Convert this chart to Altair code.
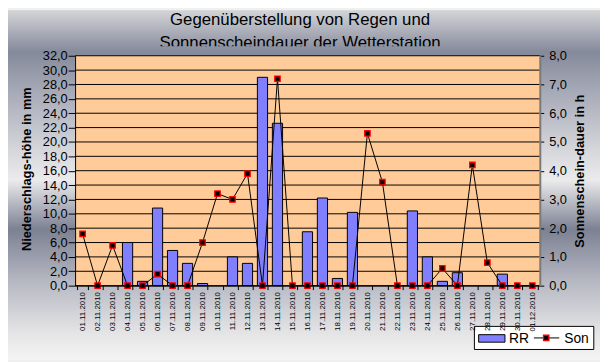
import altair as alt
import pandas as pd

# ---------------- data ----------------
dates = ["01.11.2010", "02.11.2010", "03.11.2010", "04.11.2010", "05.11.2010",
         "06.11.2010", "07.11.2010", "08.11.2010", "09.11.2010", "10.11.2010",
         "11.11.2010", "12.11.2010", "13.11.2010", "14.11.2010", "15.11.2010",
         "16.11.2010", "17.11.2010", "18.11.2010", "19.11.2010", "20.11.2010",
         "21.11.2010", "22.11.2010", "23.11.2010", "24.11.2010", "25.11.2010",
         "26.11.2010", "27.11.2010", "28.11.2010", "29.11.2010", "30.11.2010",
         "01.12.2010"]
rr_mm = [0, 0, 0, 6.0, 0.6, 10.8, 4.9, 3.1, 0.3, 0,
         4.0, 3.1, 29.0, 22.6, 0, 7.5, 12.2, 1.0, 10.2, 0,
         0, 0, 10.4, 4.0, 0.6, 1.8, 0, 0, 1.6, 0,
         0]
sun_h = [1.8, 0, 1.4, 0, 0, 0.4, 0, 0, 1.5, 3.2,
         3.0, 3.9, 0, 7.2, 0, 0, 0, 0, 0, 5.3,
         3.6, 0, 0, 0, 0.6, 0, 4.2, 0.8, 0, 0,
         0]
mm_ticks = [0, 2, 4, 6, 8, 10, 12, 14, 16, 18, 20, 22, 24, 26, 28, 30, 32]
h_ticks = [0, 1, 2, 3, 4, 5, 6, 7, 8]
title_lines = ["Gegenüberstellung von Regen und", "Sonnenscheindauer der Wetterstation"]
y_title_left = "Niederschlags-höhe in mm"
y_title_right = "Sonnenschein-dauer in h"
legend_labels = ["RR", "Son"]

# ---------------- layout / style ----------------
W, H = 471, 233
PL, PT, PR, PB = 68, 46, 61, 75
FONT = "Liberation Sans"
BAR_FILL = "#8080ff"
PEACH = "#ffcc99"

# metallic background (screen y -> colour)
BG_Y = [0, 10, 50, 100, 150, 180, 230, 283, 333, 362]
BG_C = ["#d9d9db", "#d0d1d5", "#858a9b", "#aeb1bd", "#d6d7db", "#ebebec",
        "#7c8193", "#b6b8c2", "#e3e3e5", "#f4f4f4"]


def hex2rgb(h):
    h = h.lstrip("#")
    return [int(h[i:i + 2], 16) for i in (0, 2, 4)]


def rgb2hex(c):
    return "#%02x%02x%02x" % tuple(int(round(v)) for v in c)


def color_at(y):
    for i in range(len(BG_Y) - 1):
        if BG_Y[i] <= y <= BG_Y[i + 1]:
            t = (y - BG_Y[i]) / (BG_Y[i + 1] - BG_Y[i])
            a, b = hex2rgb(BG_C[i]), hex2rgb(BG_C[i + 1])
            return rgb2hex([a[k] + (b[k] - a[k]) * t for k in range(3)])
    return BG_C[-1] if y > BG_Y[-1] else BG_C[0]


def gradient(y0, y1):
    ys = [y0] + [y for y in BG_Y if y0 < y < y1] + [y1]
    return {"gradient": "linear", "x1": 0, "y1": 0, "x2": 0, "y2": 1,
            "stops": [{"offset": (y - y0) / (y1 - y0), "color": color_at(y)} for y in ys]}


base = pd.DataFrame({"date": dates, "rr": rr_mm, "son": sun_h})
one = pd.DataFrame({"k": [0]})
grid_df = pd.DataFrame({"rr": mm_ticks})

x_axis = alt.Axis(title=None, labelAngle=270, labelFont=FONT,
                  labelFontSize=8, labelColor="black", labelPadding=2,
                  labelOverlap=False, tickBand="extent", tickSize=4,
                  tickColor="black", domainColor="black", grid=False, zindex=1)
x_enc = alt.X("date:N", sort=dates,
              scale=alt.Scale(domain=dates, paddingInner=0.32, paddingOuter=0.16),
              axis=x_axis)

yl_scale = alt.Scale(domain=[0, 32], nice=False, zero=True)
yl_axis = alt.Axis(title=y_title_left, values=mm_ticks,
                   labelExpr="replace(format(datum.value, '.1f'), '.', ',')",
                   labelFont=FONT, labelFontSize=13, labelColor="black",
                   labelPadding=1, labelOverlap=False, labelFlush=False,
                   tickSize=7, tickColor="black", domainColor="black",
                   grid=False, zindex=1,
                   titleFont=FONT, titleFontSize=13, titleFontWeight="bold",
                   titleColor="black", titleAngle=270, titleX=-44.8, titleY=H / 2 - 2,
                   titleAlign="center", titleBaseline="alphabetic")

yr_scale = alt.Scale(domain=[0, 8], nice=False, zero=True)
yr_axis = alt.Axis(title=y_title_right, orient="right", values=h_ticks,
                   labelExpr="replace(format(datum.value, '.1f'), '.', ',')",
                   labelFont=FONT, labelFontSize=13, labelColor="black",
                   labelPadding=5, labelOverlap=False, labelFlush=False,
                   tickSize=4, tickColor="black", domainColor="#7a7a7a",
                   domainWidth=2, grid=False, zindex=1,
                   titleFont=FONT, titleFontSize=13, titleFontWeight="bold",
                   titleColor="black", titleAngle=270, titleX=44, titleY=H / 2,
                   titleAlign="center", titleBaseline="alphabetic")

# background + title
bg = alt.Chart(one).mark_rect(fill=gradient(8, 362), strokeWidth=0).encode(
    x=alt.value(-PL), x2=alt.value(W + PR), y=alt.value(-PT), y2=alt.value(H + PB))
t1 = alt.Chart(one).mark_text(text=title_lines[0], font=FONT, fontSize=17, color="black",
                              align="center", baseline="alphabetic").encode(
    x=alt.value(228), y=alt.value(-31))
t2 = alt.Chart(one).mark_text(text=title_lines[1], font=FONT, fontSize=17, color="black",
                              align="center", baseline="alphabetic").encode(
    x=alt.value(228), y=alt.value(-8))
strip = alt.Chart(one).mark_rect(fill=gradient(44.5, 54), strokeWidth=0).encode(
    x=alt.value(-PL), x2=alt.value(W + PR), y=alt.value(-9.5), y2=alt.value(0))
peach = alt.Chart(one).mark_rect(fill=PEACH, strokeWidth=0).encode(
    x=alt.value(0), x2=alt.value(W), y=alt.value(0), y2=alt.value(H))

grid = alt.Chart(grid_df).mark_rule(color="black", strokeWidth=1).encode(
    y=alt.Y("rr:Q", scale=yl_scale, axis=yl_axis),
    x=alt.value(0), x2=alt.value(W))

bars = alt.Chart(base).transform_filter("datum.rr > 0").mark_bar(
    fill=BAR_FILL, stroke="black", strokeWidth=1).encode(
    x=x_enc, y=alt.Y("rr:Q", scale=yl_scale, axis=yl_axis))

left = alt.layer(bg, t1, t2, strip, peach, grid, bars)

line = alt.Chart(base).mark_line(color="black", strokeWidth=1).encode(
    x=x_enc, y=alt.Y("son:Q", scale=yr_scale, axis=yr_axis))
points = alt.Chart(base).mark_point(shape="square", filled=True, fill="black",
                                    stroke="red", strokeWidth=1.3, size=30,
                                    opacity=1).encode(
    x=x_enc, y=alt.Y("son:Q", scale=yr_scale, axis=yr_axis))

# legend box
lg_box = alt.Chart(one).mark_rect(fill="white", stroke="black", strokeWidth=1).encode(
    x=alt.value(404.7), x2=alt.value(525.7), y=alt.value(274.3), y2=alt.value(297.7))
lg_sw = alt.Chart(one).mark_rect(fill=BAR_FILL, stroke="black", strokeWidth=1).encode(
    x=alt.value(409), x2=alt.value(435.7), y=alt.value(282.7), y2=alt.value(290.3))
lg_t1 = alt.Chart(one).mark_text(text=legend_labels[0], font=FONT, fontSize=14,
                                 color="black", align="left", baseline="alphabetic").encode(
    x=alt.value(439.7), y=alt.value(291))
lg_ln = alt.Chart(one).mark_rule(color="black", strokeWidth=1).encode(
    x=alt.value(465), x2=alt.value(490.7), y=alt.value(286))
lg_pt = alt.Chart(one).mark_point(shape="square", filled=True, fill="black",
                                  stroke="red", strokeWidth=1.3, size=30, opacity=1).encode(
    x=alt.value(477.5), y=alt.value(286))
lg_t2 = alt.Chart(one).mark_text(text=legend_labels[1], font=FONT, fontSize=14,
                                 color="black", align="left", baseline="alphabetic").encode(
    x=alt.value(495.7), y=alt.value(291))

right = alt.layer(line, points, lg_box, lg_sw, lg_t1, lg_ln, lg_pt, lg_t2)

chart = alt.layer(left, right).resolve_scale(y="independent").properties(
    width=W, height=H,
    padding={"left": PL, "top": PT, "right": PR, "bottom": PB},
    autosize=alt.AutoSizeParams(type="none"),
    background="#f0f0f0",
).configure(font=FONT).configure_view(stroke="transparent")

chart.save("out.html", embed_options={"renderer": "svg", "actions": False})
